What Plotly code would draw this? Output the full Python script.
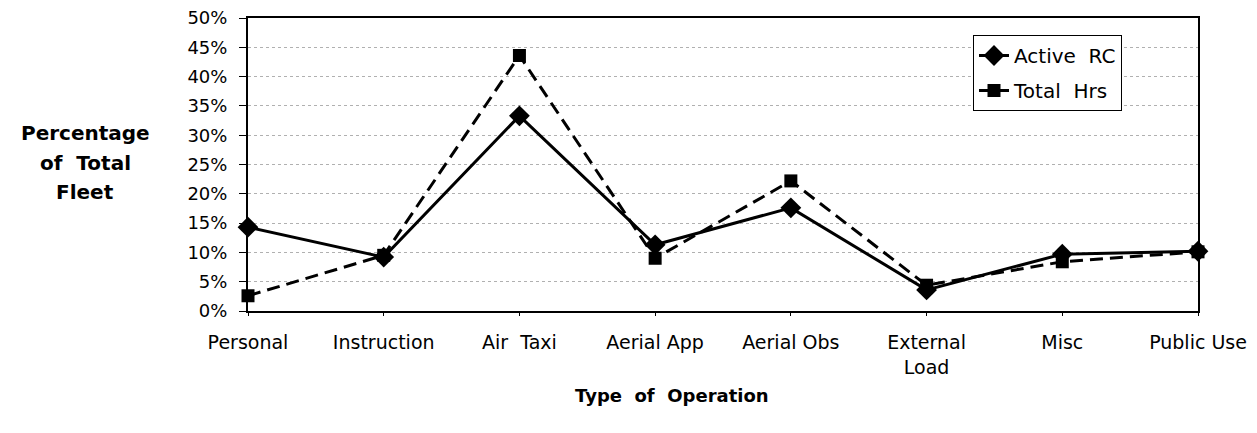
import plotly.graph_objects as go

categories = ["Personal", "Instruction", "Air  Taxi", "Aerial App", "Aerial Obs", "External<br>Load", "Misc", "Public Use"]
active_rc = [14.3, 9.2, 33.3, 11.3, 17.6, 3.6, 9.7, 10.2]
total_hrs = [2.6, 9.5, 43.6, 9.0, 22.2, 4.4, 8.4, 10.1]
y_ticks = [0, 5, 10, 15, 20, 25, 30, 35, 40, 45, 50]
y_tick_labels = [f"{v}%" for v in y_ticks]

FONT = "DejaVu Sans, Arial, sans-serif"
x_idx = list(range(len(categories)))

fig = go.Figure()
fig.add_trace(go.Scatter(
    x=x_idx, y=active_rc, name="Active  RC", mode="lines+markers",
    line=dict(color="black", width=3),
    marker=dict(symbol="diamond", size=16, color="black"),
    cliponaxis=False, legendgroup="a",
))
fig.add_trace(go.Scatter(
    x=x_idx, y=total_hrs, name="Total  Hrs", mode="lines+markers",
    line=dict(color="black", width=3, dash="13px,7px"),
    marker=dict(symbol="square", size=13, color="black"),
    cliponaxis=False, legendgroup="b",
))

W, H = 1257, 433
L, R, T, B = 248, 59, 18, 122
PW, PH = W - L - R, H - T - B

def px_x(px):
    return (px - L) / PW

def px_y(py):
    return 1 - (py - T) / PH

fig.update_layout(
    width=W, height=H,
    margin=dict(l=L, r=R, t=T, b=B, autoexpand=False),
    plot_bgcolor="white", paper_bgcolor="white",
    font=dict(family=FONT, size=17, color="black"),
    showlegend=True,
    legend=dict(
        x=px_x(973), y=px_y(35), xanchor="left", yanchor="top",
        bordercolor="black", borderwidth=1, bgcolor="white",
        font=dict(family=FONT, size=20, color="black"),
        tracegroupgap=6,
    ),
    xaxis=dict(
        tickmode="array", tickvals=x_idx, ticktext=categories,
        range=[0, len(categories) - 1],
        showgrid=False, zeroline=False, automargin=False,
        showline=True, linecolor="black", linewidth=2, mirror=True,
        ticks="outside", ticklen=3, tickcolor="black",
        tickfont=dict(family=FONT, size=19),
        ticklabelstandoff=10,
    ),
    yaxis=dict(
        tickmode="array", tickvals=y_ticks, ticktext=y_tick_labels,
        range=[0, 50], automargin=False,
        showgrid=True, gridcolor="#b0b0b0", griddash="dot", gridwidth=1,
        zeroline=False,
        showline=True, linecolor="black", linewidth=2, mirror=True,
        ticks="outside", ticklen=7, tickcolor="black",
        tickfont=dict(family=FONT, size=18),
        ticklabelstandoff=8,
    ),
    annotations=[
        dict(text="<b>Percentage</b>", xref="paper", yref="paper", x=px_x(85), y=px_y(133),
             xanchor="center", yanchor="middle", showarrow=False,
             font=dict(family=FONT, size=20, color="black")),
        dict(text="<b>of  Total</b>", xref="paper", yref="paper", x=px_x(85), y=px_y(163),
             xanchor="center", yanchor="middle", showarrow=False,
             font=dict(family=FONT, size=20, color="black")),
        dict(text="<b>Fleet</b>", xref="paper", yref="paper", x=px_x(85), y=px_y(192),
             xanchor="center", yanchor="middle", showarrow=False,
             font=dict(family=FONT, size=20, color="black")),
        dict(text="<b>Type  of  Operation</b>", xref="paper", yref="paper", x=px_x(672), y=px_y(395),
             xanchor="center", yanchor="middle", showarrow=False,
             font=dict(family=FONT, size=18, color="black")),
    ],
)

fig.write_html(
    "out.html",
    config={"displayModeBar": False},
    post_script="document.body.style.margin='0';document.body.style.overflow='hidden';",
)
